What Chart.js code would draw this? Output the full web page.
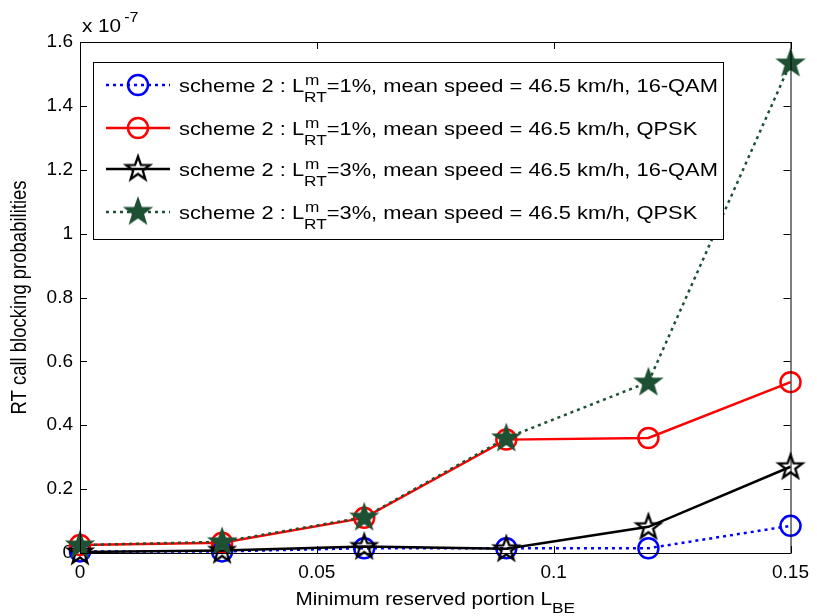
<!DOCTYPE html>
<html>
<head>
<meta charset="utf-8">
<script src="https://cdn.jsdelivr.net/npm/chart.js@4.4.0/dist/chart.umd.min.js"></script>
<style>
  html, body { margin: 0; padding: 0; background: #fff; }
  #wrap { width: 817px; height: 616px; }
</style>
</head>
<body>
<div id="wrap"><canvas id="chart"></canvas></div>
<script>
// minimum reserved portion L_BE
const portions = [0, 0.03, 0.06, 0.09, 0.12, 0.15];
// RT call blocking probabilities, in units of 1e-7
const qam1 = [0.005, 0.005, 0.015, 0.015, 0.015, 0.085];
const qpsk1 = [0.025, 0.032, 0.11, 0.355, 0.36, 0.535];
const qam3 = [0.003, 0.008, 0.02, 0.013, 0.082, 0.27];
const qpsk3 = [0.025, 0.035, 0.112, 0.36, 0.535, 1.534];

const xTicks = [0, 0.05, 0.1, 0.15];
const yTicks = [0, 0.2, 0.4, 0.6, 0.8, 1, 1.2, 1.4, 1.6];

const legendNames = [
  ['1%', '16-QAM'],
  ['1%', 'QPSK'],
  ['3%', '16-QAM'],
  ['3%', 'QPSK']
];

const FONT = '"Liberation Sans", Arial, sans-serif';
const STRETCH = 1.15; // the source figure is a bit wide
const green = '#1e5133';

// matlab style pentagram marker
function pentagram(stroke, fill) {
  const c = document.createElement('canvas');
  c.width = 32; c.height = 32;
  const g = c.getContext('2d');
  const R = 12.5, r = 5;
  g.beginPath();
  for (let i = 0; i < 10; i++) {
    const a = -Math.PI / 2 + i * Math.PI / 5;
    const rr = i % 2 === 0 ? R : r;
    const px = 16 + rr * Math.cos(a), py = 16.5 + rr * Math.sin(a);
    if (i === 0) g.moveTo(px, py); else g.lineTo(px, py);
  }
  g.closePath();
  if (fill) { g.fillStyle = fill; g.fill(); }
  g.lineWidth = 2.3;
  g.lineJoin = 'miter';
  g.strokeStyle = stroke;
  g.stroke();
  return c;
}
const blackStar = pentagram('#000', null);
const greenStar = pentagram(green, green);

function pts(arr) {
  return portions.map((x, i) => ({ x: x, y: arr[i] }));
}

const styles = [
  { color: '#0000ff', dash: [3, 4], marker: 'circle' },
  { color: '#ff0000', dash: [], marker: 'circle' },
  { color: '#000000', dash: [], marker: blackStar },
  { color: green, dash: [3, 4], marker: greenStar }
];

function drawMarker(ctx, st, x, y) {
  if (st.marker === 'circle') {
    ctx.beginPath();
    ctx.arc(x, y, 10, 0, Math.PI * 2);
    ctx.lineWidth = 2.5;
    ctx.strokeStyle = st.color;
    ctx.stroke();
  } else {
    ctx.drawImage(st.marker, x - 16, y - 16.5);
  }
}

// text drawn slightly wider, returns advance
function stext(ctx, s, x, y, size) {
  ctx.font = size + 'px ' + FONT;
  ctx.save();
  ctx.translate(x, y);
  ctx.scale(STRETCH, 1);
  ctx.fillText(s, 0, 0);
  ctx.restore();
  return ctx.measureText(s).width * STRETCH;
}
function swidth(ctx, s, size) {
  ctx.font = size + 'px ' + FONT;
  return ctx.measureText(s).width * STRETCH;
}

const frame = {
  id: 'frame',
  afterDraw(chart) {
    const ctx = chart.ctx;
    const a = chart.chartArea;
    const xs = chart.scales.x, ys = chart.scales.y;
    ctx.save();
    // box
    ctx.strokeStyle = '#000';
    ctx.lineWidth = 1;
    ctx.strokeRect(a.left + 0.5, a.top + 0.5, a.right - a.left, a.bottom - a.top);
    // inward ticks
    ctx.beginPath();
    xTicks.forEach(v => {
      const px = Math.round(xs.getPixelForValue(v)) + 0.5;
      ctx.moveTo(px, a.bottom); ctx.lineTo(px, a.bottom - 7);
      ctx.moveTo(px, a.top); ctx.lineTo(px, a.top + 7);
    });
    yTicks.forEach(v => {
      const py = Math.round(ys.getPixelForValue(v)) + 0.5;
      ctx.moveTo(a.left, py); ctx.lineTo(a.left + 7, py);
      ctx.moveTo(a.right, py); ctx.lineTo(a.right - 7, py);
    });
    ctx.stroke();

    ctx.fillStyle = '#000';
    ctx.textBaseline = 'alphabetic';
    ctx.textAlign = 'left';
    // exponent
    const ew = stext(ctx, 'x 10', 82, 32, 18);
    stext(ctx, '-7', 82 + ew + 3, 22, 14);

    // x title
    const xt = 'Minimum reserved portion L';
    const w1 = swidth(ctx, xt, 18);
    const w2 = swidth(ctx, 'BE', 15);
    const x0 = (a.left + a.right) / 2 - (w1 + w2) / 2;
    stext(ctx, xt, x0, 605, 18);
    stext(ctx, 'BE', x0 + w1, 613, 15);

    // y title
    ctx.save();
    ctx.translate(26, (a.top + a.bottom) / 2);
    ctx.rotate(-Math.PI / 2);
    ctx.scale(1, STRETCH);
    ctx.font = '18.5px ' + FONT;
    ctx.textAlign = 'center';
    ctx.fillText('RT call blocking probabilities', 0, 0);
    ctx.restore();

    // legend box
    const lx = 93, ly = 62, lw = 630, lh = 177;
    ctx.fillStyle = '#fff';
    ctx.fillRect(lx, ly, lw, lh);
    ctx.strokeStyle = '#000';
    ctx.lineWidth = 1;
    ctx.strokeRect(lx + 0.5, ly + 0.5, lw, lh);
    const rows = [85, 128, 169, 212];
    legendNames.forEach((nm, i) => {
      const st = styles[i];
      const y = rows[i];
      ctx.beginPath();
      ctx.setLineDash(st.dash);
      ctx.lineWidth = 2.5;
      ctx.strokeStyle = st.color;
      ctx.moveTo(106, y); ctx.lineTo(170, y);
      ctx.stroke();
      ctx.setLineDash([]);
      drawMarker(ctx, st, 138, y);
      ctx.fillStyle = '#000';
      ctx.textAlign = 'left';
      let tx = 179;
      tx += stext(ctx, 'scheme 2 : L', tx, y + 7, 19);
      stext(ctx, 'm', tx + 1, y, 15);
      tx += stext(ctx, 'RT', tx, y + 17, 15);
      stext(ctx, '=' + nm[0] + ', mean speed = 46.5 km/h, ' + nm[1], tx, y + 7, 19);
    });
    ctx.restore();
  }
};

const series = [qam1, qpsk1, qam3, qpsk3];
const datasets = series.map((arr, i) => ({
  label: 'scheme 2 : L_RT^m=' + legendNames[i][0] + ', mean speed = 46.5 km/h, ' + legendNames[i][1],
  data: pts(arr),
  borderColor: styles[i].color,
  backgroundColor: 'rgba(0,0,0,0)',
  borderWidth: 2.5,
  borderDash: styles[i].dash,
  pointStyle: styles[i].marker,
  pointRadius: 10,
  pointBorderWidth: 2.5,
  pointBorderColor: styles[i].color,
  pointBackgroundColor: 'rgba(0,0,0,0)',
  tension: 0,
  clip: false,
  order: 3 - i
}));

new Chart(document.getElementById('chart'), {
  type: 'line',
  data: { datasets: datasets },
  options: {
    responsive: true,
    maintainAspectRatio: false,
    animation: false,
    layout: { padding: { left: 0, top: 42, right: 24, bottom: 0 } },
    plugins: {
      legend: { display: false },
      tooltip: { enabled: false }
    },
    scales: {
      x: {
        type: 'linear',
        min: 0,
        max: 0.15,
        afterFit: s => { s.height = 63; },
        afterBuildTicks: s => { s.ticks = xTicks.map(v => ({ value: v })); },
        grid: { display: false, drawTicks: false },
        border: { display: false },
        ticks: {
          padding: 8,
          color: '#000',
          font: { family: FONT, size: 19 },
          maxRotation: 0,
          callback: v => String(+v.toFixed(2))
        }
      },
      y: {
        min: 0,
        max: 1.6,
        afterFit: s => { s.width = 80; },
        afterBuildTicks: s => { s.ticks = yTicks.map(v => ({ value: v })); },
        grid: { display: false, drawTicks: false },
        border: { display: false },
        ticks: {
          padding: 7,
          color: '#000',
          font: { family: FONT, size: 19 },
          callback: v => String(+v.toFixed(1))
        }
      }
    }
  },
  plugins: [frame]
});
</script>
</body>
</html>
